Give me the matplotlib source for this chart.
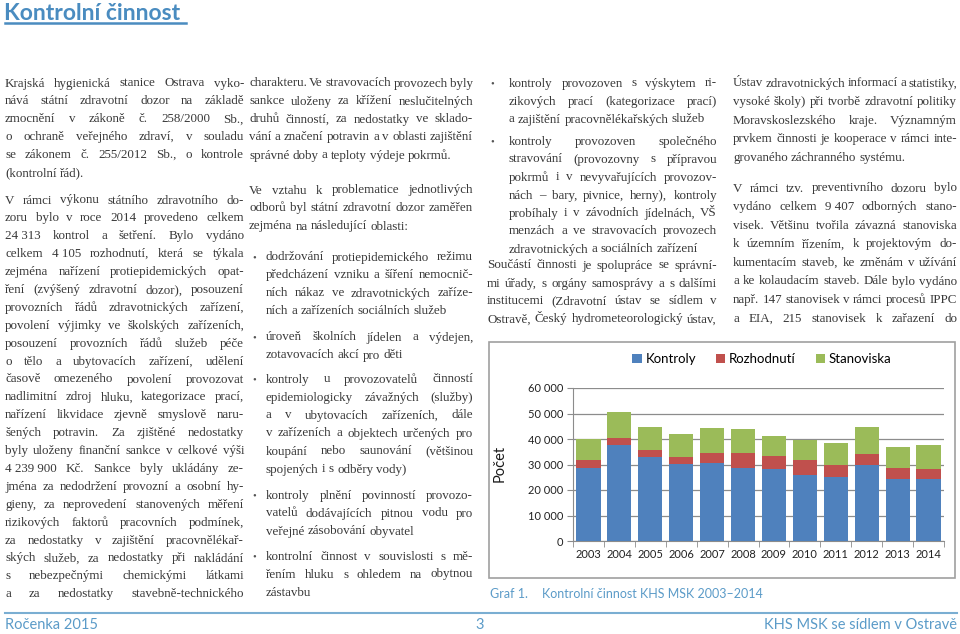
import matplotlib
matplotlib.use('Agg')
import matplotlib.pyplot as plt
from matplotlib.patches import Rectangle
from matplotlib.lines import Line2D
import numpy as np

# data for the chart (Graf 1)
years = ['2003', '2004', '2005', '2006', '2007', '2008',
         '2009', '2010', '2011', '2012', '2013', '2014']
kontroly = np.array([28600, 37600, 32900, 30300, 30600, 28600,
                     28400, 25800, 25100, 29700, 24300, 24313])
rozhodnuti = np.array([3300, 2800, 2900, 2600, 3900, 5900,
                       4800, 6100, 4600, 4500, 4200, 4105])
stanoviska = np.array([8100, 10100, 8900, 8900, 9800, 9400,
                       8100, 7600, 8700, 10500, 8500, 9407])
series_names = ['Kontroly', 'Rozhodnutí', 'Stanoviska']
y_ticks = [0, 10000, 20000, 30000, 40000, 50000, 60000]

# text of the page, line by line as in the print
col1_p1 = [
    "Krajská hygienická stanice Ostrava vyko-",
    "nává státní zdravotní dozor na základě",
    "zmocnění v zákoně č. 258/2000 Sb.,",
    "o ochraně veřejného zdraví, v souladu",
    "se zákonem č. 255/2012 Sb., o kontrole",
    "(kontrolní řád).",
]
col1_p2 = [
    "V rámci výkonu státního zdravotního do-",
    "zoru bylo v roce 2014 provedeno celkem",
    "24\u00a0313 kontrol a šetření. Bylo vydáno",
    "celkem 4\u00a0105 rozhodnutí, která se týkala",
    "zejména nařízení protiepidemických opat-",
    "ření (zvýšený zdravotní dozor), posouzení",
    "provozních řádů zdravotnických zařízení,",
    "povolení výjimky ve školských zařízeních,",
    "posouzení provozních řádů služeb péče",
    "o tělo a ubytovacích zařízení, udělení",
    "časově omezeného povolení provozovat",
    "nadlimitní zdroj hluku, kategorizace prací,",
    "nařízení likvidace zjevně smyslově naru-",
    "šených potravin. Za zjištěné nedostatky",
    "byly uloženy finanční sankce v celkové výši",
    "4\u00a0239\u00a0900 Kč. Sankce byly ukládány ze-",
    "jména za nedodržení provozní a osobní hy-",
    "gieny, za neprovedení stanovených měření",
    "rizikových faktorů pracovních podmínek,",
    "za nedostatky v zajištění pracovnělékař-",
    "ských služeb, za nedostatky při nakládání",
    "s nebezpečnými chemickými látkami",
    "a za nedostatky stavebně-technického",
]
col2_p1 = [
    "charakteru. Ve stravovacích provozech byly",
    "sankce uloženy za křížení neslučitelných",
    "druhů činností, za nedostatky ve sklado-",
    "vání a značení potravin a v oblasti zajištění",
    "správné doby a teploty výdeje pokrmů.",
]
col2_p2 = [
    "Ve vztahu k problematice jednotlivých",
    "odborů byl státní zdravotní dozor zaměřen",
    "zejména na následující oblasti:",
]
col2_bullets = [
    ["dodržování protiepidemického režimu",
     "předcházení vzniku a šíření nemocnič-",
     "ních nákaz ve zdravotnických zaříze-",
     "ních a zařízeních sociálních služeb"],
    ["úroveň školních jídelen a výdejen,",
     "zotavovacích akcí pro děti"],
    ["kontroly u provozovatelů činností",
     "epidemiologicky závažných (služby)",
     "a v ubytovacích zařízeních, dále",
     "v zařízeních a objektech určených pro",
     "koupání nebo saunování (většinou",
     "spojených i s odběry vody)"],
    ["kontroly plnění povinností provozo-",
     "vatelů dodávajících pitnou vodu pro",
     "veřejné zásobování obyvatel"],
    ["kontrolní činnost v souvislosti s mě-",
     "řením hluku s ohledem na obytnou",
     "zástavbu"],
]
col3_bullets = [
    ["kontroly provozoven s výskytem ri-",
     "zikových prací (kategorizace prací)",
     "a zajištění pracovnělékařských služeb"],
    ["kontroly provozoven společného",
     "stravování (provozovny s přípravou",
     "pokrmů i v nevyvařujících provozov-",
     "nách – bary, pivnice, herny), kontroly",
     "probíhaly i v závodních jídelnách, VŠ",
     "menzách a ve stravovacích provozech",
     "zdravotnických a sociálních zařízení"],
]
col3_p = [
    "Součástí činnosti je spolupráce se správní-",
    "mi úřady, s orgány samosprávy a s dalšími",
    "institucemi (Zdravotní ústav se sídlem v",
    "Ostravě, Český hydrometeorologický ústav,",
]
col4_p1 = [
    "Ústav zdravotnických informací a statistiky,",
    "vysoké školy) při tvorbě zdravotní politiky",
    "Moravskoslezského kraje. Významným",
    "prvkem činnosti je kooperace v rámci inte-",
    "grovaného záchranného systému.",
]
col4_p2 = [
    "V rámci tzv. preventivního dozoru bylo",
    "vydáno celkem 9\u00a0407 odborných stano-",
    "visek. Většinu tvořila závazná stanoviska",
    "k územním řízením, k projektovým do-",
    "kumentacím staveb, ke změnám v užívání",
    "a ke kolaudacím staveb. Dále bylo vydáno",
    "např. 147 stanovisek v rámci procesů IPPC",
    "a EIA, 215 stanovisek k zařazení do",
]

W, H = 960, 634
SERIF = 'Liberation Serif'
SANS = ['Lato', 'DejaVu Sans']
TEXT_C = '#383838'
BLUE_T = '#4a8cc0'
BASE = 9.4

fig = plt.figure(figsize=(W / 100, H / 100), dpi=100)
fig.patch.set_facecolor('white')
renderer = fig.canvas.get_renderer()


def fx(x):
    return x / W


def fy(y):
    return 1 - y / H


def put_line(x0, x1, y, text, justify):
    """one justified line, word by word"""
    words = text.split(' ')
    size = BASE
    avail = x1 - x0
    for attempt in range(2):
        ts = [fig.text(0, fy(y), w, fontsize=size, family=SERIF,
                       color=TEXT_C, va='baseline', ha='left') for w in words]
        ws = [t.get_window_extent(renderer).width for t in ts]
        space = size * 100 / 72 * 0.25
        min_gap = space * 0.4
        need = sum(ws) + (len(words) - 1) * min_gap
        if need <= avail or attempt == 1:
            break
        for t in ts:
            t.remove()
        size *= (avail - (len(words) - 1) * min_gap) / sum(ws)
    if justify and len(words) > 1:
        gap = (avail - sum(ws)) / (len(words) - 1)
    else:
        gap = space
    x = x0
    for t, w in zip(ts, ws):
        t.set_x(fx(x))
        x += w + gap


def put_block(x0, x1, y0, step, lines, last_just=False):
    for i, ln in enumerate(lines):
        last = i == len(lines) - 1
        put_line(x0, x1, y0 + i * step + 3.5, ln, (not last) or last_just)


def put_bullet(xb, x0, x1, y0, step, lines):
    fig.text(fx(xb), fy(y0 + 3.5), '•', fontsize=7.5, color='#555555',
             family=SERIF, va='baseline', ha='left')
    put_block(x0, x1, y0, step, lines)


# title
fig.text(fx(4), fy(13), 'Kontrolní činnost', fontsize=16.5, fontweight='bold',
         family=SANS, color=BLUE_T, va='center', ha='left')
fig.add_artist(Line2D([fx(5), fx(186)], [fy(23), fy(23)],
                      transform=fig.transFigure, color=BLUE_T, lw=1.8))

# column 1
put_block(5, 244, 83, 17.9, col1_p1)
put_block(5, 244, 200, 17.9, col1_p2, last_just=True)

# column 2
put_block(249, 473, 83, 18.0, col2_p1)
put_block(249, 473, 190, 18.0, col2_p2)
for y0, lines in zip([257, 337, 379, 495, 556], col2_bullets):
    put_bullet(252, 266, 473, y0, 18.0, lines)

# column 3
for y0, lines in zip([83, 141], col3_bullets):
    put_bullet(490, 509, 717, y0, 18.0, lines)
put_block(487, 717, 265, 18.0, col3_p, last_just=True)

# column 4
put_block(733, 957, 83, 18.6, col4_p1)
put_block(733, 957, 188, 18.6, col4_p2, last_just=True)

# chart frame
fig.add_artist(Rectangle((fx(489), fy(578)), (955 - 489) / W, (578 - 342) / H,
                         transform=fig.transFigure, fill=False,
                         edgecolor='#a0a0a0', lw=1.2))

ax = fig.add_axes([fx(573), fy(541), (944 - 573) / W, (541 - 388) / H])
x = np.arange(len(years))
bw = 0.78
ax.bar(x, kontroly, bw, color='#4f81bd', label=series_names[0], zorder=3)
ax.bar(x, rozhodnuti, bw, bottom=kontroly, color='#c0504d',
       label=series_names[1], zorder=3)
ax.bar(x, stanoviska, bw, bottom=kontroly + rozhodnuti, color='#9bbb59',
       label=series_names[2], zorder=3)
ax.set_xlim(-0.5, len(years) - 0.5)
ax.set_ylim(0, 60000)
ax.set_yticks(y_ticks)
ax.set_yticklabels([f'{v:,}'.replace(',', ' ') for v in y_ticks],
                   family=SANS, fontsize=8, color='#222222')
ax.set_xticks(x)
ax.set_xticklabels(years, family=SANS, fontsize=8, color='#222222')
ax.set_xticks(np.arange(-0.5, len(years), 1.0), minor=True)
ax.tick_params(axis='x', which='major', length=0, pad=6)
ax.tick_params(axis='x', which='minor', length=4, color='#8c8c8c', direction='out')
ax.tick_params(axis='y', length=4, color='#8c8c8c', pad=3)
ax.grid(axis='y', color='#8c8c8c', lw=0.9, zorder=0)
ax.set_axisbelow(True)
for s in ['top', 'right']:
    ax.spines[s].set_visible(False)
for s in ['left', 'bottom']:
    ax.spines[s].set_color('#8c8c8c')
ax.set_facecolor('none')

ax.legend(loc='center', bbox_to_anchor=(fx(762), fy(359)),
          bbox_transform=fig.transFigure, ncol=3, frameon=False,
          handlelength=0.7, handleheight=0.7, handletextpad=0.3,
          columnspacing=1.5, prop={'family': SANS, 'size': 9.5})

fig.text(fx(500), fy(463), 'Počet', rotation=90, fontsize=10.5,
         family=SANS, color='#1a1a1a', ha='center', va='center')

# caption
CAP_C = '#5b9bc8'
fig.text(fx(490), fy(594), 'Graf 1.', fontsize=9, family=SANS, color=CAP_C,
         va='center', ha='left')
fig.text(fx(542), fy(594), 'Kontrolní činnost KHS MSK 2003–2014', fontsize=9,
         family=SANS, color=CAP_C, va='center', ha='left')

# footer
fig.add_artist(Line2D([fx(5), fx(957)], [fy(613), fy(613)],
                      transform=fig.transFigure, color='#7aaed2', lw=1.5))
FOOT_C = '#5b9bc8'
fig.text(fx(5), fy(625), 'Ročenka 2015', fontsize=10.5, family=SANS,
         color=FOOT_C, va='center', ha='left')
fig.text(fx(480), fy(625), '3', fontsize=10.5, family=SANS,
         color=FOOT_C, va='center', ha='center')
fig.text(fx(957), fy(625), 'KHS MSK se sídlem v Ostravě', fontsize=10.5,
         family=SANS, color=FOOT_C, va='center', ha='right')

fig.savefig('out.png', dpi=100, facecolor='white')
